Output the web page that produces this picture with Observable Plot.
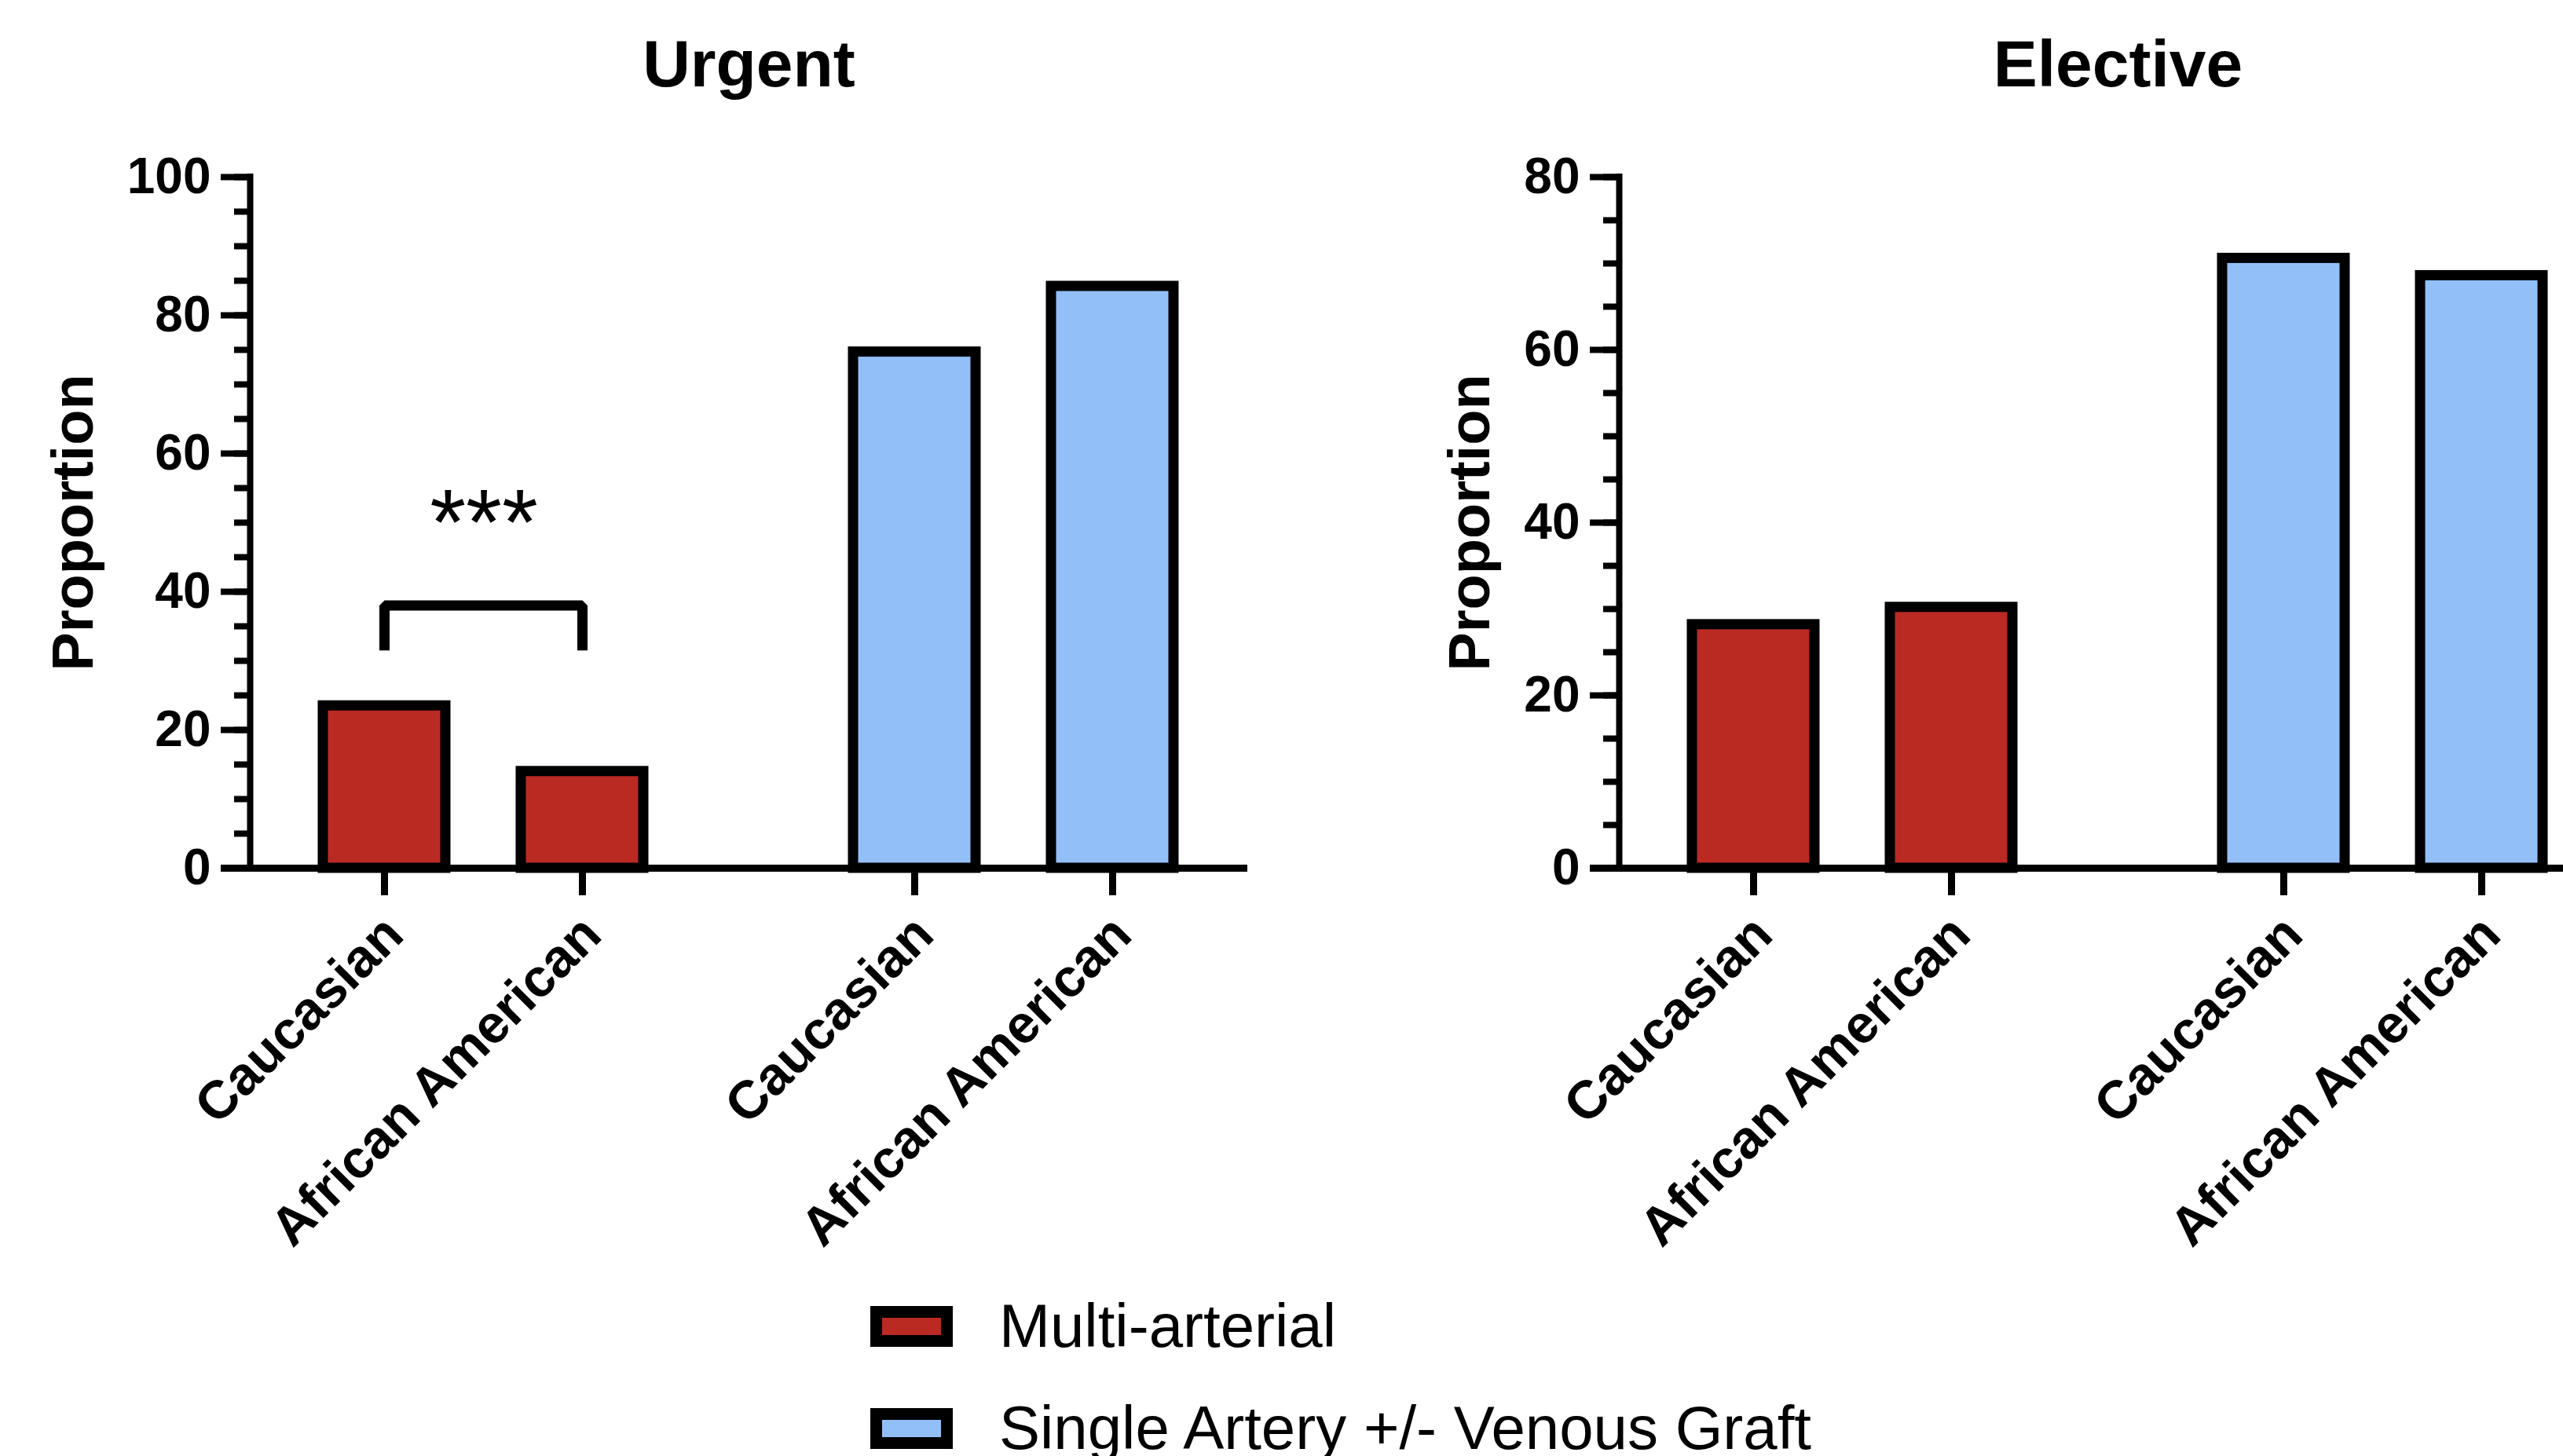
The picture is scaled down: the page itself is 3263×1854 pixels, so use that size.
<!DOCTYPE html>
<html>
<head>
<meta charset="utf-8">
<script src="https://cdn.jsdelivr.net/npm/d3@7"></script>
<script src="https://cdn.jsdelivr.net/npm/@observablehq/plot@0.6"></script>
<style>
  html, body { margin: 0; padding: 0; background: #fff; overflow: hidden; }
  #root { position: relative; width: 3263px; height: 1854px; overflow: hidden; background: #fff;
          font-family: "Liberation Sans", Arial, Helvetica, sans-serif; color: #000; }
  .layer { position: absolute; top: 0; }
  .swatch { position: absolute; box-sizing: border-box; border: 15px solid #000; width: 105px; height: 52px; }
  .ltext { position: absolute; font-size: 78px; line-height: 1; white-space: nowrap; }
</style>
</head>
<body>
<div id="root"></div>
<script>
// ---- data ----
const panels = ["Urgent", "Elective"];
const groups = ["Multi-arterial", "Single Artery +/- Venous Graft"];
const races = ["Caucasian", "African American"];
const urgentMulti = [23.5, 14.0];
const urgentSingle = [74.7, 84.2];
const electiveMulti = [28.2, 30.2];
const electiveSingle = [70.6, 68.6];
const yMax = [100, 80];
const majorStep = 20;
const minorStep = 5;
const yLabel = "Proportion";
const sigLabel = "***";
const sigBracketLow = 31.5;
const sigBracketHigh = 38;
const sigTextLevel = 49.7;

// ---- styling / layout ----
const RED = "#bb2923";
const BLUE = "#93bff9";
const FONT = "'Liberation Sans', Arial, Helvetica, sans-serif";
const common = {
  width: 1600, height: 1600,
  marginLeft: 318, marginRight: 12, marginTop: 225, marginBottom: 495,
  style: { fontFamily: FONT, background: "transparent", overflow: "visible", maxWidth: "none", color: "#000" }
};
const panelLeft = [0, 1743];
const yLabelOffset = [201, 166];

function rows(multi, single) {
  return [
    ...races.map((r, i) => ({ group: groups[0], race: r, value: multi[i] })),
    ...races.map((r, i) => ({ group: groups[1], race: r, value: single[i] }))
  ];
}

const panelData = [rows(urgentMulti, urgentSingle), rows(electiveMulti, electiveSingle)];
const root = document.getElementById("root");

panels.forEach((title, p) => {
  const ymax = yMax[p];
  const data = panelData[p];
  const extra = [];
  if (p === 0) {
    const bracket = [
      { group: groups[0], race: races[0], y: sigBracketLow },
      { group: groups[0], race: races[0], y: sigBracketHigh },
      { group: groups[0], race: races[1], y: sigBracketHigh },
      { group: groups[0], race: races[1], y: sigBracketLow }
    ];
    extra.push(Plot.line(bracket, {
      fx: "group", x: "race", y: "y", stroke: "black", strokeWidth: 13,
      strokeLinejoin: "miter", strokeLinecap: "butt"
    }));
    extra.push(Plot.text([{ group: groups[0], y: sigTextLevel, label: sigLabel }], {
      fx: "group", y: "y", text: "label", fontSize: 118, fill: "black"
    }));
  }

  const bars = Plot.plot({
    ...common,
    fx: { domain: groups, paddingInner: 0.1213, paddingOuter: 0, axis: null, label: null },
    x: { domain: races, paddingInner: 0.3794, paddingOuter: 0.3636, label: null },
    y: { domain: [0, ymax], axis: null },
    color: { domain: groups, range: [RED, BLUE] },
    marks: [
      Plot.barY(data, { fx: "group", x: "race", y: "value", fill: "group", stroke: "black", strokeWidth: 13 }),
      Plot.axisX({ tickSize: 35, strokeWidth: 9, tickFormat: () => "", label: null }),
      Plot.axisX({ tickSize: 0, tickRotate: -45, tickPadding: 73, dx: 12,
                   fontSize: 68, fontWeight: "bold", label: null }),
      ...extra
    ]
  });

  const axes = Plot.plot({
    ...common,
    x: { domain: [0, 1], axis: null },
    y: { domain: [0, ymax] },
    marks: [
      Plot.axisY({ ticks: d3.range(0, ymax + 1, minorStep), tickSize: 20, strokeWidth: 8,
                   tickFormat: () => "", label: null }),
      Plot.axisY({ ticks: d3.range(0, ymax + 1, majorStep), tickSize: 37, tickPadding: 13, strokeWidth: 8,
                   fontSize: 64, fontWeight: "bold", label: null }),
      Plot.ruleX([0], { y1: 0, y2: ymax, strokeWidth: 8, strokeLinecap: "square" }),
      Plot.ruleY([0], { strokeWidth: 9, insetLeft: -37 }),
      Plot.text([title], { frameAnchor: "top", lineAnchor: "bottom", dy: -116, fontSize: 84, fontWeight: "bold" }),
      Plot.text([yLabel], { frameAnchor: "left", textAnchor: "middle", rotate: -90, dx: -yLabelOffset[p],
                            lineAnchor: "bottom", fontSize: 74, fontWeight: "bold" })
    ]
  });

  [bars, axes].forEach(svg => {
    svg.classList.add("layer");
    svg.style.left = panelLeft[p] + "px";
    root.appendChild(svg);
  });
});

// ---- legend ----
const legendColors = [RED, BLUE];
const legendTop = [1663, 1793];
groups.forEach((g, i) => {
  const sw = document.createElement("div");
  sw.className = "swatch";
  sw.style.left = "1108px";
  sw.style.top = legendTop[i] + "px";
  sw.style.background = legendColors[i];
  root.appendChild(sw);
  const t = document.createElement("div");
  t.className = "ltext";
  t.textContent = g;
  t.style.left = "1272px";
  t.style.top = (legendTop[i] - 14) + "px";
  root.appendChild(t);
});
</script>
</body>
</html>
